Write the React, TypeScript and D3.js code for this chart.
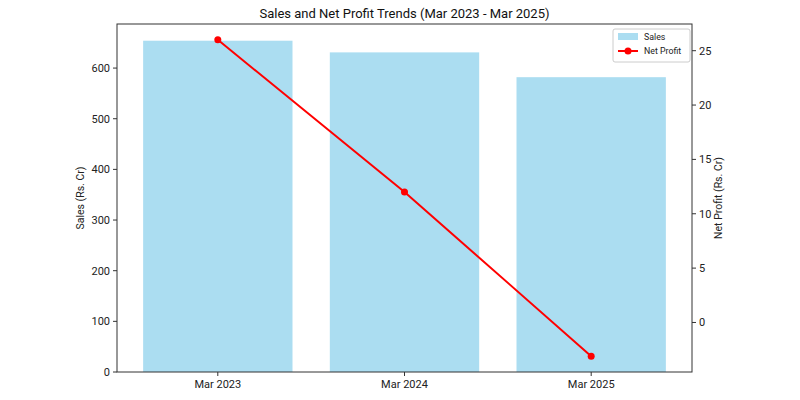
import React from "react";
import * as d3 from "d3";

const categories = ["Mar 2023", "Mar 2024", "Mar 2025"];
const sales = [654, 631, 582];
const netProfit = [26.0, 12.0, -3.1];
const salesTicks = [0, 100, 200, 300, 400, 500, 600];
const profitTicks = [0, 5, 10, 15, 20, 25];

const W = 800, H = 400;
const M = { left: 117, right: 692, top: 24, bottom: 372 };
const FONT = "Roboto, 'DejaVu Sans', sans-serif";

export default function App() {
  const x = d3.scaleLinear().domain([-0.54, categories.length - 1 + 0.54]).range([M.left, M.right]);
  const yL = d3.scaleLinear().domain([0, 687]).range([M.bottom, M.top]);
  const pMin = d3.min(netProfit)!, pMax = d3.max(netProfit)!;
  const pad = (pMax - pMin) * 0.05;
  const yR = d3.scaleLinear().domain([pMin - pad, pMax + pad]).range([M.bottom, M.top]);
  const bw = x(0.4) - x(-0.4);
  const line = d3.line<number>().x((_, i) => x(i)).y((d) => yR(d));

  return (
    <svg width={W} height={H} style={{ position: "absolute", left: 0, top: 0 }} fontFamily={FONT}>
      <rect x={0} y={0} width={W} height={H} fill="white" />
      {sales.map((v, i) => (
        <rect key={i} x={x(i) - bw / 2} y={yL(v)} width={bw} height={yL(0) - yL(v)} fill="#87CEEB" fillOpacity={0.7} />
      ))}
      <path d={line(netProfit) || ""} fill="none" stroke="red" strokeWidth={2} />
      {netProfit.map((v, i) => (
        <circle key={i} cx={x(i)} cy={yR(v)} r={3.5} fill="red" />
      ))}
      <rect x={M.left} y={M.top} width={M.right - M.left} height={M.bottom - M.top} fill="none" stroke="#333" strokeWidth={1} />
      {salesTicks.map((t) => (
        <g key={t} transform={`translate(${M.left},${yL(t)})`}>
          <line x1={-4} x2={0} stroke="#333" />
          <text x={-7} dy="0.35em" textAnchor="end" fontSize={11} fill="#222">{t}</text>
        </g>
      ))}
      {profitTicks.map((t) => (
        <g key={t} transform={`translate(${M.right},${yR(t)})`}>
          <line x1={0} x2={4} stroke="#333" />
          <text x={7} dy="0.35em" textAnchor="start" fontSize={11} fill="#222">{t}</text>
        </g>
      ))}
      {categories.map((c, i) => (
        <g key={c} transform={`translate(${x(i)},${M.bottom})`}>
          <line y1={0} y2={4} stroke="#333" />
          <text y={16} textAnchor="middle" fontSize={11} fill="#222">{c}</text>
        </g>
      ))}
      <text x={(M.left + M.right) / 2} y={18} textAnchor="middle" fontSize={13} fill="#111">
        Sales and Net Profit Trends (Mar 2023 - Mar 2025)
      </text>
      <text transform={`translate(84,${(M.top + M.bottom) / 2}) rotate(-90)`} textAnchor="middle" fontSize={10.5} fill="#222">
        Sales (Rs. Cr)
      </text>
      <text transform={`translate(722,${(M.top + M.bottom) / 2}) rotate(-90)`} textAnchor="middle" fontSize={10.5} fill="#222">
        Net Profit (Rs. Cr)
      </text>
      <g transform="translate(613,29)">
        <rect x={0} y={0} width={77} height={33} rx={2} fill="white" fillOpacity={0.8} stroke="#ccc" />
        <rect x={5} y={4} width={20} height={7} fill="#87CEEB" fillOpacity={0.7} />
        <text x={31} y={11} fontSize={8.8} fill="#222">Sales</text>
        <line x1={5} x2={25} y1={22} y2={22} stroke="red" strokeWidth={2} />
        <circle cx={15} cy={22} r={3.5} fill="red" />
        <text x={31} y={25} fontSize={8.8} fill="#222">Net Profit</text>
      </g>
    </svg>
  );
}
